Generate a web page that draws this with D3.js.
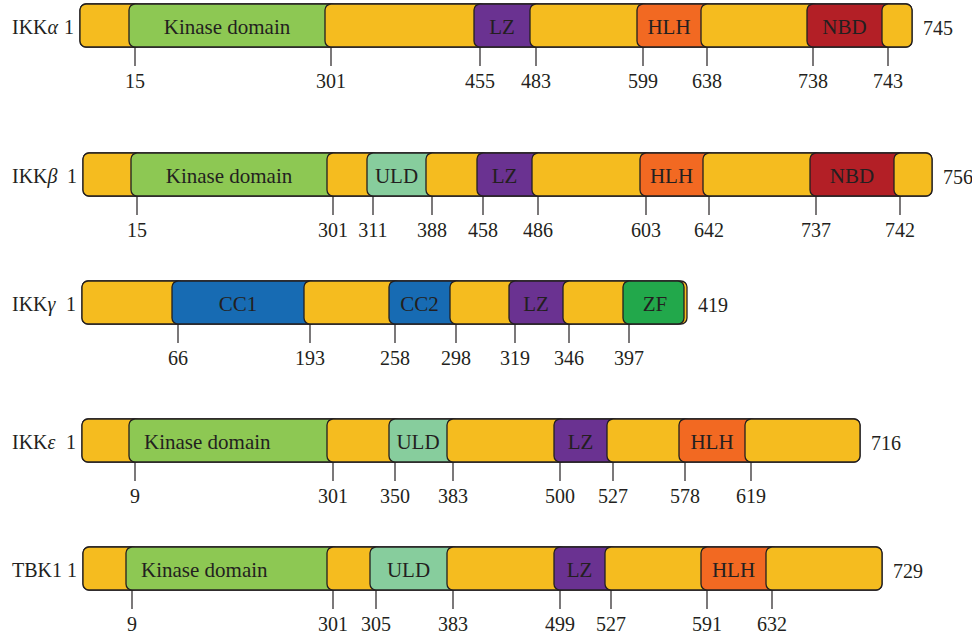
<!DOCTYPE html>
<meta charset="utf-8">
<script src="https://d3js.org/d3.v7.min.js"></script>
<body style="margin:0;background:#fff">
<div id="chart"></div>
</body>
<script>
  // protein names (greek suffix set in italics), lengths and domains
  const proteins = ["IKK", "IKK", "IKK", "IKK", "TBK1"];
  const greek = ["α", "β", "γ", "ε", ""];
  const lengths = [745, 756, 419, 716, 729];

  // [name, start, end] for each domain
  const ikkA = [["Kinase domain", 15, 301], ["LZ", 455, 483], ["HLH", 599, 638], ["NBD", 738, 743]];
  const ikkB = [["Kinase domain", 15, 301], ["ULD", 311, 388], ["LZ", 458, 486], ["HLH", 603, 642], ["NBD", 737, 742]];
  const ikkG = [["CC1", 66, 193], ["CC2", 258, 298], ["LZ", 319, 346], ["ZF", 397, 419]];
  const ikkE = [["Kinase domain", 9, 301], ["ULD", 350, 383], ["LZ", 500, 527], ["HLH", 578, 619]];
  const tbk1 = [["Kinase domain", 9, 301], ["ULD", 305, 383], ["LZ", 499, 527], ["HLH", 591, 632]];
  const domains = [ikkA, ikkB, ikkG, ikkE, tbk1];

  const colors = {
    "linker": "#f5bc1f",
    "Kinase domain": "#8dc853",
    "LZ": "#6a3291",
    "HLH": "#f26922",
    "NBD": "#b31f26",
    "ULD": "#87cd9d",
    "CC1": "#176bb3",
    "CC2": "#176bb3",
    "ZF": "#22a84b"
  };

  // schematic layout: the figure is not drawn to scale, so every row gets a
  // piecewise linear scale that pins residue boundaries to screen positions
  const rowTop = [4, 153, 281, 419, 547];
  const xStops = [
    [80, 135, 331, 480, 536, 643, 707, 813, 888, 912],
    [83, 137, 333, 373, 432, 483, 538, 646, 709, 816, 900, 932],
    [82, 178, 310, 395, 456, 515, 569, 629, 687],
    [82, 135, 333, 395, 453, 560, 613, 685, 751, 860],
    [83, 132, 333, 376, 453, 560, 611, 707, 772, 882]
  ];
  const kinaseAnchor = ["middle", "middle", "middle", "start", "start"];

  const W = 972, H = 638, barH = 43, r = 6;
  const ink = "#231f20";
  const font = "'Liberation Serif', 'DejaVu Serif', serif";

  const svg = d3.select("#chart").append("svg")
    .attr("width", W).attr("height", H)
    .style("font-family", font).style("font-size", "20px");

  proteins.forEach((p, i) => {
    const len = lengths[i];
    const doms = domains[i];
    const bounds = [1];
    doms.forEach(d => { bounds.push(d[1]); if (d[2] !== len) bounds.push(d[2]); });
    bounds.push(len);
    const x = d3.scaleLinear().domain(bounds).range(xStops[i]);

    // build segments: linker, domain, linker, ...
    const segs = [];
    let pos = 1;
    doms.forEach(d => {
      if (d[1] > pos) segs.push({name: "linker", start: pos, end: d[1]});
      segs.push({name: d[0], start: d[1], end: d[2]});
      pos = d[2];
    });
    if (pos < len) segs.push({name: "linker", start: pos, end: len});

    const left = s => s.start === 1 ? x(1) : x(s.start) - r;
    const right = (s, j) => j < segs.length - 1 ? left(segs[j + 1]) + 2 * r
      : x(len) - (s.name === "linker" ? 0 : 3);

    const g = svg.append("g").attr("transform", `translate(0,${rowTop[i]})`);

    // backing bar, shows past a domain that runs to the last residue
    g.append("rect")
      .attr("x", x(1)).attr("y", 0)
      .attr("width", x(len) - x(1)).attr("height", barH)
      .attr("rx", r).attr("ry", r)
      .attr("fill", colors.linker)
      .attr("stroke", ink).attr("stroke-width", 1.3);

    g.selectAll("rect.seg").data(segs).join("rect")
      .attr("class", "seg")
      .attr("x", d => left(d))
      .attr("y", 0)
      .attr("width", (d, j) => right(d, j) - left(d))
      .attr("height", barH)
      .attr("rx", r).attr("ry", r)
      .attr("fill", d => colors[d.name])
      .attr("stroke", ink).attr("stroke-width", 1.3);

    // domain labels
    g.selectAll("text.dom").data(segs.filter(s => s.name !== "linker")).join("text")
      .attr("class", "dom")
      .attr("x", d => {
        const a = left(d), b = d.end === len ? x(len) : x(d.end) - r;
        if (d.name === "Kinase domain" && kinaseAnchor[i] === "start") return a + 15;
        return (a + b) / 2;
      })
      .attr("y", 30)
      .attr("text-anchor", d => d.name === "Kinase domain" ? kinaseAnchor[i] : "middle")
      .attr("fill", ink)
      .style("font-size", "21px")
      .text(d => d.name);

    // boundary ticks and residue numbers
    const ticks = bounds.slice(1, -1);
    g.selectAll("line.tick").data(ticks).join("line")
      .attr("class", "tick")
      .attr("x1", d => x(d)).attr("x2", d => x(d))
      .attr("y1", barH).attr("y2", barH + 19)
      .attr("stroke", ink).attr("stroke-width", 1.2);
    g.selectAll("text.num").data(ticks).join("text")
      .attr("class", "num")
      .attr("x", d => x(d)).attr("y", barH + 41)
      .attr("text-anchor", "middle").attr("fill", ink)
      .text(d => d);

    // row name, first residue, length
    const name = g.append("text").attr("x", 12).attr("y", 30).attr("fill", ink).text(p);
    if (greek[i]) name.append("tspan").style("font-style", "italic").text(greek[i]);
    g.append("text").attr("x", x(1) - 6).attr("y", 30).attr("text-anchor", "end")
      .attr("fill", ink).text(1);
    g.append("text").attr("x", x(len) + 11).attr("y", 31)
      .attr("fill", ink).text(len);
  });
</script>
